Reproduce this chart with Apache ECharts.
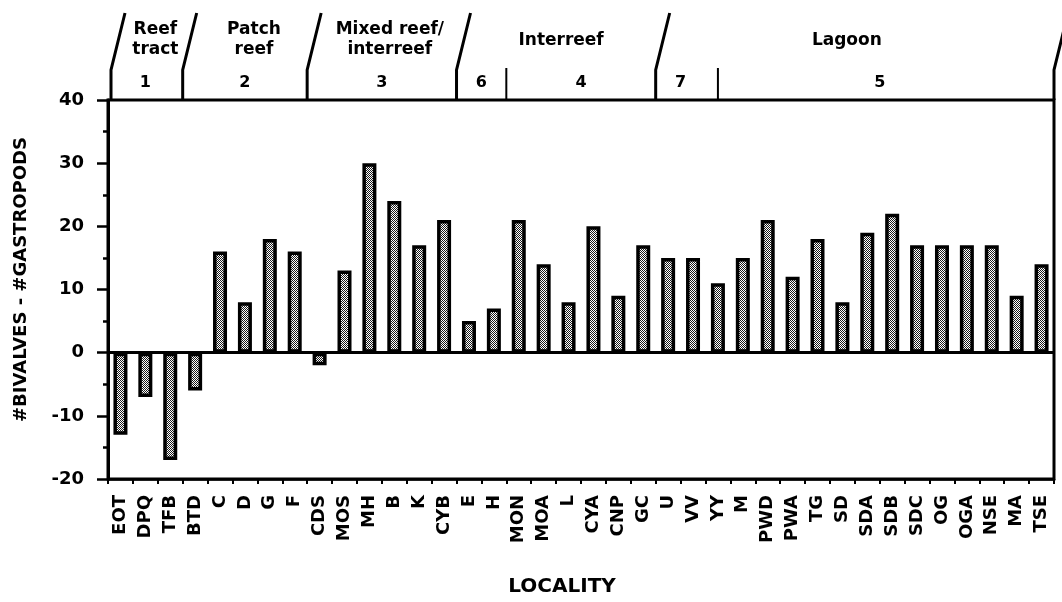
<!DOCTYPE html>
<html><head><meta charset="utf-8">
<script src="https://cdn.jsdelivr.net/npm/echarts@6/dist/echarts.min.js"></script>
<style>html,body{margin:0;padding:0;background:#fff}#c{width:1062px;height:602px}</style>
</head><body><div id="c"></div>
<script>
// ---- data ----
const categories = ['EOT','DPQ','TFB','BTD','C','D','G','F','CDS','MOS','MH','B','K','CYB','E','H','MON','MOA','L','CYA','CNP','GC','U','VV','YY','M','PWD','PWA','TG','SD','SDA','SDB','SDC','OG','OGA','NSE','MA','TSE'];
const values = [-13,-7,-17,-6,16,8,18,16,-2,13,30,24,17,21,5,7,21,14,8,20,9,17,15,15,11,15,21,12,18,8,19,22,17,17,17,17,9,14];
const yMin = -20, yMax = 40, yStep = 10;
const zoneNames = ['Reef\ntract','Patch\nreef','Mixed reef/\ninterreef','Interreef','Lagoon'];
const zoneBounds = [0,3,8,14,22,38];
const subZoneLabels = ['1','2','3','6','4','7','5'];
const subZoneBounds = [0,3,8,14,16,22,24,38];
const yAxisTitle = '#BIVALVES - #GASTROPODS';
const xAxisTitle = 'LOCALITY';

// ---- bar fill pattern ----
function makePattern(){
  const cv = document.createElement('canvas');
  cv.width = 4; cv.height = 4;
  const g = cv.getContext('2d');
  g.fillStyle = '#ffffff'; g.fillRect(0,0,4,4);
  g.fillStyle = '#1a1a1a';
  for (let x=0;x<4;x++) for (let y=0;y<4;y++) {
    if ((x+y)%4===0 || ((x-y)+8)%4===0 || (x===2 && y===0) || (x===0 && y===2)) g.fillRect(x,y,1,1);
  }
  return cv;
}
const FONT = 'DejaVu Sans';
const chart = echarts.init(document.getElementById('c'), null, {renderer:'canvas'});
const option = {
  animation: false,
  backgroundColor: '#fff',
  grid: {left:108, right:8, top:100, bottom:121, show:true, borderColor:'#000', borderWidth:3, backgroundColor:'transparent'},
  xAxis: {
    type:'category', data: categories, position:'bottom',
    axisLine:{onZero:false, lineStyle:{color:'#000', width:2.5}},
    axisTick:{show:true, length:5, lineStyle:{color:'#000', width:2}},
    axisLabel:{rotate:90, interval:0, margin:16, color:'#000', fontFamily:FONT, fontWeight:'bold', fontSize:18, padding:[0,0,10,0]},
    name: xAxisTitle, nameLocation:'middle', nameGap:98,
    nameTextStyle:{color:'#000', fontFamily:FONT, fontWeight:'bold', fontSize:20, padding:[0,38,0,0]}
  },
  yAxis: {
    type:'value', min:yMin, max:yMax, interval:yStep,
    axisLine:{show:true, lineStyle:{color:'#000', width:3}},
    axisTick:{show:true, length:11, lineStyle:{color:'#000', width:2.5}},
    minorTick:{show:true, splitNumber:2, length:5, lineStyle:{color:'#000', width:2.5}},
    splitLine:{show:false},
    axisLabel:{margin:24, color:'#000', fontFamily:FONT, fontWeight:'bold', fontSize:18},
    name: yAxisTitle, nameLocation:'middle', nameGap:78, nameRotate:90,
    nameTextStyle:{color:'#000', fontFamily:FONT, fontWeight:'bold', fontSize:18, padding:[0,0,0,20]}
  },
  series: [{
    type:'bar', data: values, barWidth:14,
    itemStyle:{color:{image: makePattern(), repeat:'repeat'}, borderColor:'#000', borderWidth:3.5},
    markLine:{silent:true, symbol:'none', label:{show:false}, lineStyle:{color:'#000', width:3, type:'solid'}, data:[{yAxis:0}]}
  }]
};
chart.setOption(option);

// ---- header zones drawn from axis scale ----
const c0 = chart.convertToPixel({xAxisIndex:0}, 0);
const c1 = chart.convertToPixel({xAxisIndex:0}, 1);
const band = c1 - c0;
const bx = k => c0 - band/2 + k*band;
const yTop = chart.convertToPixel({yAxisIndex:0}, yMax);
const els = [];
zoneBounds.forEach((k,i) => {
  const x = bx(k) + (i===0 ? 3 : 0);
  els.push({type:'polyline', shape:{points:[[x,yTop],[x,yTop-30],[x+14,yTop-87]]}, style:{stroke:'#000', lineWidth:3, fill:null}});
});
const nudge = {24:0.5};
subZoneBounds.forEach(k => {
  if (zoneBounds.indexOf(k) >= 0) return;
  const x = bx(k + (nudge[k]||0));
  els.push({type:'line', shape:{x1:x, y1:yTop-32, x2:x, y2:yTop}, style:{stroke:'#000', lineWidth:2}});
});
subZoneLabels.forEach((t,i) => {
  const x = (bx(subZoneBounds[i]) + bx(subZoneBounds[i+1]))/2;
  els.push({type:'text', x:x, y:yTop-17, style:{text:t, fill:'#000', fontFamily:FONT, fontWeight:'bold', fontSize:16, align:'center', verticalAlign:'middle'}});
});
const zoneDx = [10,9,8,5,-8];
zoneNames.forEach((t,i) => {
  const x = (bx(zoneBounds[i]) + bx(zoneBounds[i+1]))/2 + zoneDx[i];
  const two = t.indexOf('\n') >= 0;
  els.push({type:'text', x:x, y: two ? yTop-60 : yTop-59, style:{text:t, fill:'#000', fontFamily:FONT, fontWeight:'bold', fontSize:17, lineHeight:20, align:'center', verticalAlign:'middle'}});
});
chart.setOption({graphic: els});
</script></body></html>
